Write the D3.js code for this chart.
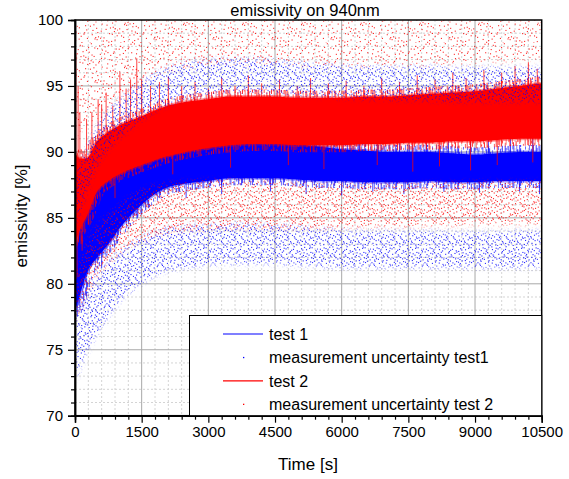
<!DOCTYPE html>
<html lang="en">
<head>
    <meta charset="UTF-8" />
    <title>emissivity on 940nm</title>
    <script src="https://d3js.org/d3.v7.min.js"></script>
    <style>
        body {
            margin: 0;
            background: #fff;
            font-family: "Liberation Sans", Arial, sans-serif;
        }
        text {
            fill: #000;
        }
    </style>
</head>
<body>
<svg id="chart"></svg>

<script>
    const times = [0, 100, 250, 500, 750, 1000, 1500, 2000, 2500, 3000, 3500, 4000, 4500,
        5000, 5500, 6000, 6500, 7000, 7500, 8000, 8500, 9000, 9500, 10000, 10500];

    // test 1 (blue line) lower / upper edge of the noise band [%]
    const test1Low = [78.0, 79.0, 80.7, 82.0, 83.0, 84.2, 86.0, 87.2, 87.6, 87.8, 88.0, 88.0, 88.0,
        87.9, 87.8, 87.8, 87.7, 87.7, 87.7, 87.8, 87.7, 87.7, 87.8, 87.8, 87.8];
    const test1High = [82.0, 84.0, 85.5, 87.1, 88.0, 88.8, 89.7, 90.3, 90.6, 90.8, 91.0, 91.0, 90.8,
        90.6, 90.4, 90.2, 90.1, 90.0, 90.0, 90.0, 89.9, 89.8, 89.9, 90.0, 90.0];

    // test 2 (red line)
    const test2Low = [83.0, 84.0, 85.0, 87.0, 87.8, 88.3, 89.0, 89.6, 90.0, 90.3, 90.5, 90.6, 90.6,
        90.5, 90.5, 90.5, 90.6, 90.6, 90.7, 90.7, 90.8, 90.8, 90.9, 91.0, 91.0];
    const test2High = [90.0, 89.5, 89.5, 90.8, 91.5, 92.0, 92.7, 93.4, 93.8, 94.0, 94.2, 94.2, 94.2,
        94.1, 94.1, 94.1, 94.2, 94.2, 94.3, 94.4, 94.5, 94.6, 94.8, 95.0, 95.2];

    // single spikes that stick out of the bands: [time, value]
    const test1Spikes = [[40, 86.5], [150, 86.8], [400, 88.2], [800, 89.6], [1200, 90.5], [1700, 91.4],
        [2300, 92.0], [2800, 92.3], [3200, 92.6], [3560, 92.8], [3800, 93.5], [4100, 92.5],
        [4500, 92.2], [5000, 92.0], [5400, 92.4], [5900, 91.6], [6400, 91.5], [6800, 91.2],
        [7300, 91.4], [7900, 91.0], [8400, 91.2], [8900, 90.8], [9300, 91.3], [9800, 91.0],
        [10300, 91.5], [50, 77.5], [600, 81.2], [1400, 85.0], [2500, 86.5], [3300, 86.8],
        [4400, 87.0], [5200, 86.8], [6000, 86.7], [6700, 87.0], [7400, 86.8], [8300, 87.0],
        [9100, 86.9], [10000, 87.0], [10450, 86.8]];
    const test2Spikes = [[20, 97.5], [45, 80.5], [70, 95.0], [110, 93.0], [160, 82.5], [260, 92.5],
        [380, 93.0], [520, 94.0], [600, 93.6], [700, 94.5], [850, 93.5], [1010, 96.0], [1150, 94.8],
        [1250, 95.5], [1390, 97.1], [1500, 95.5], [1700, 95.0], [1900, 95.3], [2100, 95.7],
        [2400, 95.0], [2700, 95.3], [3000, 94.8], [3300, 95.6], [3600, 95.0], [3900, 95.8],
        [4200, 95.2], [4600, 95.5], [5000, 95.0], [5300, 95.6], [5700, 95.2], [6100, 95.4],
        [6500, 95.0], [6900, 95.6], [7300, 95.3], [7700, 95.8], [8100, 95.5], [8500, 96.0],
        [8800, 95.6], [9200, 96.2], [9600, 96.0], [9900, 96.5], [10200, 96.8], [10400, 96.3],
        [300, 84.5], [900, 86.5], [2200, 88.3], [3500, 88.8], [4800, 89.0], [5600, 88.7],
        [6800, 89.0], [7600, 88.5], [8200, 88.9], [8900, 88.6], [9500, 89.0], [10300, 89.2]];

    // measurement uncertainty test1 (blue dots): upper and lower scatter band
    const unc1UpperLow = [84.0, 85.2, 86.8, 89.0, 90.2, 91.0, 92.4, 93.4, 94.0, 94.3, 94.5, 94.5, 94.4,
        94.3, 94.2, 94.1, 94.0, 94.0, 93.9, 93.9, 93.8, 93.8, 93.8, 93.8, 93.8];
    const unc1UpperHigh = [88.0, 89.0, 90.2, 92.0, 93.2, 94.0, 95.4, 96.3, 96.8, 97.0, 97.1, 97.1, 97.0,
        96.8, 96.7, 96.6, 96.5, 96.5, 96.5, 96.5, 96.4, 96.4, 96.4, 96.4, 96.4];
    const unc1LowerLow = [72.5, 73.5, 74.7, 76.2, 77.5, 78.6, 80.0, 80.9, 81.2, 81.4, 81.5, 81.5, 81.5,
        81.4, 81.3, 81.2, 81.2, 81.2, 81.2, 81.2, 81.2, 81.2, 81.2, 81.2, 81.3];
    const unc1LowerHigh = [78.0, 78.5, 79.5, 80.8, 81.8, 82.5, 83.6, 84.2, 84.4, 84.5, 84.6, 84.6, 84.5,
        84.4, 84.2, 84.1, 84.0, 84.0, 84.0, 84.0, 83.9, 83.9, 83.9, 84.0, 84.0];

    // measurement uncertainty test 2 (red dots)
    const unc2UpperLow = [91.0, 91.5, 92.0, 92.5, 93.2, 94.0, 95.2, 96.0, 96.4, 96.6, 96.7, 96.7, 96.7,
        96.6, 96.5, 96.5, 96.5, 96.5, 96.5, 96.6, 96.6, 96.7, 96.8, 96.9, 97.0];
    const unc2UpperHigh = [100, 100, 100, 100, 100, 100, 100, 100, 100, 100, 100, 100, 100,
        100, 100, 100, 100, 100, 100, 100, 100, 100, 100, 100, 100];
    const unc2LowerLow = [77.0, 77.8, 79.0, 80.5, 81.5, 82.3, 83.2, 83.8, 84.0, 84.1, 84.2, 84.2, 84.2,
        84.2, 84.2, 84.2, 84.3, 84.3, 84.3, 84.4, 84.4, 84.5, 84.5, 84.5, 84.5];
    const unc2LowerHigh = [81.0, 81.5, 83.0, 84.5, 85.3, 86.0, 87.2, 87.6, 87.8, 87.9, 87.9, 87.8, 87.8,
        87.7, 87.6, 87.6, 87.6, 87.6, 87.6, 87.7, 87.7, 87.8, 87.8, 87.8, 87.8];

    const xTicks = [0, 1500, 3000, 4500, 6000, 7500, 9000, 10500];
    const yTicks = [70, 75, 80, 85, 90, 95, 100];
    const legendItems = [
        { label: "test 1", kind: "line", color: "#0000ff" },
        { label: "measurement uncertainty test1", kind: "dot", color: "#0000ff" },
        { label: "test 2", kind: "line", color: "#ff0000" },
        { label: "measurement uncertainty test 2", kind: "dot", color: "#ff0000" }
    ];

    const width = 569;
    const height = 479;
    const margin = { top: 20, right: 27.3, bottom: 63.3, left: 75 };
    const plotW = width - margin.left - margin.right;
    const plotH = height - margin.top - margin.bottom;

    const svg = d3.select("#chart").attr("width", width).attr("height", height);
    const defs = svg.append("defs");

    const x = d3.scaleLinear().domain([0, 10500]).range([margin.left, margin.left + plotW]);
    const y = d3.scaleLinear().domain([70, 100]).range([margin.top + plotH, margin.top]);

    defs.append("clipPath").attr("id", "plot-clip")
        .append("rect")
        .attr("x", margin.left).attr("y", margin.top)
        .attr("width", plotW).attr("height", plotH);

    defs.append("filter").attr("id", "soft")
        .attr("filterUnits", "userSpaceOnUse")
        .attr("x", 0).attr("y", 0).attr("width", width).attr("height", height)
        .append("feGaussianBlur").attr("stdDeviation", 2.5);

    // texture positions (Halton sequence, not data)
    function halton(i, b) {
        let f = 1, r = 0;
        while (i > 0) {
            f /= b;
            r += f * (i % b);
            i = Math.floor(i / b);
        }
        return r;
    }

    function dotPattern(id, color, w, h, n, start) {
        const p = defs.append("pattern").attr("id", id)
            .attr("patternUnits", "userSpaceOnUse")
            .attr("width", w).attr("height", h);
        for (let i = start; i < start + n; i++) {
            p.append("rect")
                .attr("x", halton(i, 2) * w).attr("y", halton(i, 3) * h)
                .attr("width", 1.1).attr("height", 1.1)
                .attr("fill", color)
                .attr("fill-opacity", 0.85);
        }
    }
    dotPattern("dots-blue", "#0000ff", 53, 41, 230, 11);
    dotPattern("dots-red", "#ff0000", 47, 37, 170, 37);
    dotPattern("dots-red-sparse", "#ff0000", 59, 43, 130, 71);

    // hair texture for the ragged edge of the noisy lines
    function hairPattern(id, color, w, h, n, start) {
        const p = defs.append("pattern").attr("id", id)
            .attr("patternUnits", "userSpaceOnUse")
            .attr("width", w).attr("height", h);
        for (let i = start; i < start + n; i++) {
            const y0 = halton(i, 3) * h;
            const len = 2 + halton(i, 5) * h * 0.8;
            p.append("rect")
                .attr("x", halton(i, 2) * w).attr("y", y0)
                .attr("width", 0.9).attr("height", len)
                .attr("fill", color)
                .attr("fill-opacity", 0.55 + 0.45 * halton(i, 7));
            if (y0 + len > h) {
                p.append("rect")
                    .attr("x", halton(i, 2) * w).attr("y", 0)
                    .attr("width", 0.9).attr("height", y0 + len - h)
                    .attr("fill", color)
                    .attr("fill-opacity", 0.55 + 0.45 * halton(i, 7));
            }
        }
    }
    hairPattern("hair-blue", "#0000ff", 31, 13, 20, 3);
    hairPattern("hair-red", "#ff0000", 29, 15, 20, 9);

    const band = (lo, hi) => times.map((t, i) => ({ t, lo: lo[i], hi: hi[i] }));

    const area = d3.area()
        .x(d => x(d.t))
        .y0(d => y(d.lo))
        .y1(d => y(d.hi))
        .curve(d3.curveMonotoneX);

    // grid
    const grid = svg.append("g");
    grid.selectAll("line.xminor")
        .data(d3.range(300, 10500, 300).filter(v => v % 1500 !== 0))
        .join("line")
        .attr("x1", d => x(d)).attr("x2", d => x(d))
        .attr("y1", margin.top).attr("y2", margin.top + plotH)
        .attr("stroke", "#d4d4d4").attr("stroke-dasharray", "2,2");
    grid.selectAll("line.yminor")
        .data(d3.range(71, 100, 1).filter(v => v % 5 !== 0))
        .join("line")
        .attr("y1", d => y(d)).attr("y2", d => y(d))
        .attr("x1", margin.left).attr("x2", margin.left + plotW)
        .attr("stroke", "#d4d4d4").attr("stroke-dasharray", "2,2");
    grid.selectAll("line.xmajor")
        .data(xTicks.slice(1, -1))
        .join("line")
        .attr("x1", d => x(d)).attr("x2", d => x(d))
        .attr("y1", margin.top).attr("y2", margin.top + plotH)
        .attr("stroke", "#a8a8a8");
    grid.selectAll("line.ymajor")
        .data(yTicks.slice(1, -1))
        .join("line")
        .attr("y1", d => y(d)).attr("y2", d => y(d))
        .attr("x1", margin.left).attr("x2", margin.left + plotW)
        .attr("stroke", "#a8a8a8");

    const plot = svg.append("g").attr("clip-path", "url(#plot-clip)");

    function drawLineBand(lo, hi, spikes, color, hairId) {
        const data = band(lo, hi);
        const loAt = d3.scaleLinear().domain(times).range(lo);
        const hiAt = d3.scaleLinear().domain(times).range(hi);
        plot.append("g")
            .attr("stroke", color)
            .attr("stroke-opacity", 0.75)
            .attr("stroke-width", 1)
            .selectAll("line")
            .data(spikes)
            .join("line")
            .attr("x1", d => x(d[0])).attr("x2", d => x(d[0]))
            .attr("y1", d => y(d[1] > hiAt(d[0]) ? hiAt(d[0]) - 0.3 : loAt(d[0]) + 0.3))
            .attr("y2", d => y(d[1]));
        plot.append("path")
            .datum(data)
            .attr("d", area)
            .attr("fill", "none")
            .attr("stroke", `url(#${hairId})`)
            .attr("stroke-width", 14);
        plot.append("path")
            .datum(data)
            .attr("d", area)
            .attr("fill", color)
            .attr("stroke", color)
            .attr("stroke-opacity", 0.4)
            .attr("stroke-width", 3);
    }

    let maskCount = 0;
    function drawDotBand(lo, hi, patternId) {
        const id = "mask-" + (maskCount++);
        defs.append("mask").attr("id", id)
            .attr("maskUnits", "userSpaceOnUse")
            .attr("x", 0).attr("y", 0).attr("width", width).attr("height", height)
            .append("path")
            .datum(band(lo, hi))
            .attr("d", area)
            .attr("fill", "#fff")
            .attr("filter", "url(#soft)");
        plot.append("rect")
            .attr("x", margin.left).attr("y", margin.top)
            .attr("width", plotW).attr("height", plotH)
            .attr("fill", `url(#${patternId})`)
            .attr("mask", `url(#${id})`);
    }

    drawLineBand(test1Low, test1High, test1Spikes, "#0000ff", "hair-blue");
    drawLineBand(test2Low, test2High, test2Spikes, "#ff0000", "hair-red");
    drawDotBand(unc1UpperLow, unc1UpperHigh, "dots-blue");
    drawDotBand(unc1LowerLow, unc1LowerHigh, "dots-blue");
    drawDotBand(unc2UpperLow, unc2UpperHigh, "dots-red-sparse");
    drawDotBand(unc2LowerLow, unc2LowerHigh, "dots-red");

    // frame
    svg.append("rect")
        .attr("x", margin.left).attr("y", margin.top)
        .attr("width", plotW).attr("height", plotH)
        .attr("fill", "none").attr("stroke", "#000").attr("stroke-width", 1.5);

    // axes
    const xAxis = svg.append("g")
        .attr("transform", `translate(0,${margin.top + plotH})`)
        .call(d3.axisBottom(x).tickValues(xTicks).tickFormat(d3.format("d")).tickSize(7).tickPadding(4));
    const xMinor = svg.append("g")
        .attr("transform", `translate(0,${margin.top + plotH})`)
        .call(d3.axisBottom(x).tickValues(d3.range(0, 10501, 300).filter(v => v % 1500 !== 0)).tickFormat("").tickSize(4));
    const yAxis = svg.append("g")
        .attr("transform", `translate(${margin.left},0)`)
        .call(d3.axisLeft(y).tickValues(yTicks).tickSize(7).tickPadding(5));
    const yMinor = svg.append("g")
        .attr("transform", `translate(${margin.left},0)`)
        .call(d3.axisLeft(y).tickValues(d3.range(70, 101, 1).filter(v => v % 5 !== 0)).tickFormat("").tickSize(4));

    [xAxis, xMinor, yAxis, yMinor].forEach(a => {
        a.select(".domain").attr("stroke-width", 1.5);
        a.selectAll(".tick line").attr("stroke-width", 1.2);
    });
    [xAxis, yAxis].forEach(a => a.selectAll(".tick text")
        .attr("font-family", "Liberation Sans, Arial, sans-serif")
        .attr("font-size", 15)
        .attr("fill", "#000"));

    // titles
    svg.append("text")
        .attr("x", 305).attr("y", 16)
        .attr("text-anchor", "middle")
        .attr("font-size", 16.5)
        .text("emissivity on 940nm");
    svg.append("text")
        .attr("x", 308).attr("y", 470)
        .attr("text-anchor", "middle")
        .attr("font-size", 17)
        .text("Time [s]");
    svg.append("text")
        .attr("transform", "translate(27,216) rotate(-90)")
        .attr("text-anchor", "middle")
        .attr("font-size", 17)
        .text("emissivity [%]");

    // legend
    const legend = svg.append("g");
    legend.append("rect")
        .attr("x", 189.5).attr("y", 315.5)
        .attr("width", margin.left + plotW - 189.5).attr("height", margin.top + plotH - 315.5)
        .attr("fill", "#fff").attr("stroke", "#000").attr("stroke-width", 1);
    const item = legend.selectAll("g.item")
        .data(legendItems)
        .join("g")
        .attr("transform", (d, i) => `translate(0,${334 + i * 23.4})`);
    item.filter(d => d.kind === "line").append("line")
        .attr("x1", 223).attr("x2", 263)
        .attr("stroke", d => d.color).attr("stroke-width", 1.2);
    item.filter(d => d.kind === "dot").append("rect")
        .attr("x", 243).attr("y", -0.5).attr("width", 1.3).attr("height", 1.3)
        .attr("fill", d => d.color);
    item.append("text")
        .attr("x", 269).attr("dy", "0.36em")
        .attr("font-size", 16)
        .text(d => d.label);
</script>
</body>
</html>
